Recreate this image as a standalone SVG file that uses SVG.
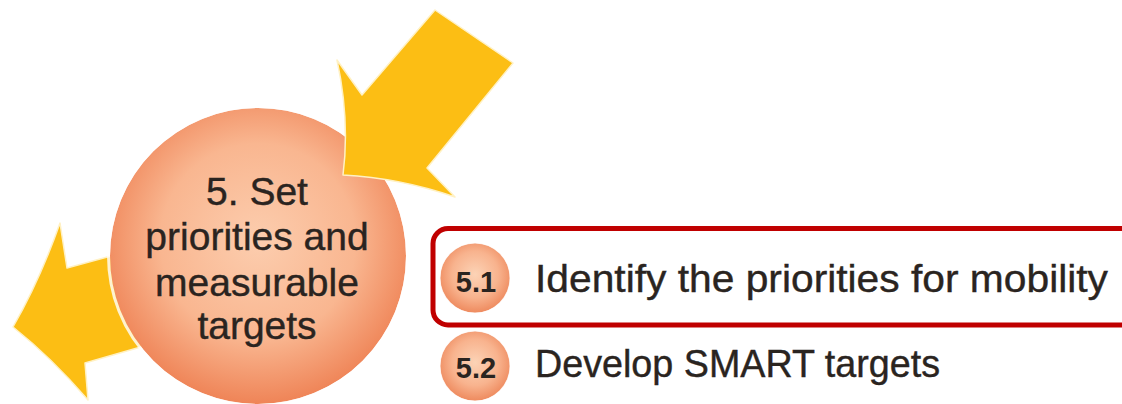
<svg xmlns="http://www.w3.org/2000/svg" width="1122" height="404" viewBox="0 0 1122 404">
  <defs>
    <radialGradient id="ballMain" cx="0.5" cy="0.45" r="0.55">
      <stop offset="0" stop-color="#FCCDAE"/>
      <stop offset="0.6" stop-color="#F9B690"/>
      <stop offset="1" stop-color="#EF8457"/>
    </radialGradient>
    <radialGradient id="ballSmall" cx="0.5" cy="0.45" r="0.55">
      <stop offset="0" stop-color="#FCD3B6"/>
      <stop offset="0.6" stop-color="#F8B38E"/>
      <stop offset="1" stop-color="#EE8A5E"/>
    </radialGradient>
    <filter id="soft" x="-10%" y="-10%" width="120%" height="120%">
      <feGaussianBlur stdDeviation="0.6"/>
    </filter>
    <style>
      .arrow { fill: #FCBE14; stroke: #FFF1C4; stroke-width: 1.5; stroke-linejoin: round; }
      .main { font-family: "Liberation Sans", Arial, sans-serif; font-size: 39px; fill: #2A2420; stroke: #2A2420; stroke-width: 0.4; text-anchor: middle; }
      .num { font-family: "Liberation Sans", Arial, sans-serif; font-size: 29px; font-weight: bold; fill: #2A2420; text-anchor: middle; }
      .item { font-family: "Liberation Sans", Arial, sans-serif; font-size: 39px; fill: #2A2420; stroke: #2A2420; stroke-width: 0.4; }
      .halo { fill: none; stroke: #FFFFFF; stroke-opacity: 0.8; stroke-width: 3; }
    </style>
  </defs>

  <rect width="1122" height="404" fill="#FFFFFF"/>

  <!-- outgoing arrow, runs behind the main ball -->
  <g id="connectors">
    <path id="arrow-out" class="arrow" d="M 155 244 L 67 268 L 60 223 Q 40 280 13 327 Q 52 358 88 400 L 85 363 L 172 338 Z"/>
  </g>

  <!-- main step ball -->
  <g id="step5">
    <circle cx="258" cy="256" r="148" fill="url(#ballMain)"/>
    <circle class="halo" cx="258" cy="256" r="149.5" filter="url(#soft)"/>
    <text class="main" x="257" y="205">5. Set</text>
    <text class="main" x="257" y="250">priorities and</text>
    <text class="main" x="257" y="296">measurable</text>
    <text class="main" x="257" y="339">targets</text>
  </g>

  <!-- incoming arrow, overlaps the main ball -->
  <g id="connectors-in">
    <path id="arrow-in" class="arrow" d="M 435 10 L 513 63 L 427 168 L 455 197 Q 400 178 343 175 Q 350 120 337 60 L 362 95 Z"/>
  </g>

  <!-- highlighted sub-step frame -->
  <g id="highlight">
    <rect x="433" y="228.5" width="720" height="96.5" rx="15" ry="15" fill="none" stroke="#C00000" stroke-width="5"/>
  </g>

  <g id="step5-1">
    <circle cx="475" cy="278" r="35" fill="url(#ballSmall)"/>
    <circle class="halo" cx="475" cy="278" r="36" stroke-width="2" filter="url(#soft)"/>
    <text class="num" x="476" y="292">5.1</text>
    <text class="item" x="535" y="292" textLength="573" lengthAdjust="spacingAndGlyphs">Identify the priorities for mobility</text>
  </g>

  <g id="step5-2">
    <circle cx="475" cy="366" r="35" fill="url(#ballSmall)"/>
    <circle class="halo" cx="475" cy="366" r="36" stroke-width="2" filter="url(#soft)"/>
    <text class="num" x="476" y="378">5.2</text>
    <text class="item" x="535" y="377" textLength="405" lengthAdjust="spacingAndGlyphs">Develop SMART targets</text>
  </g>
</svg>
